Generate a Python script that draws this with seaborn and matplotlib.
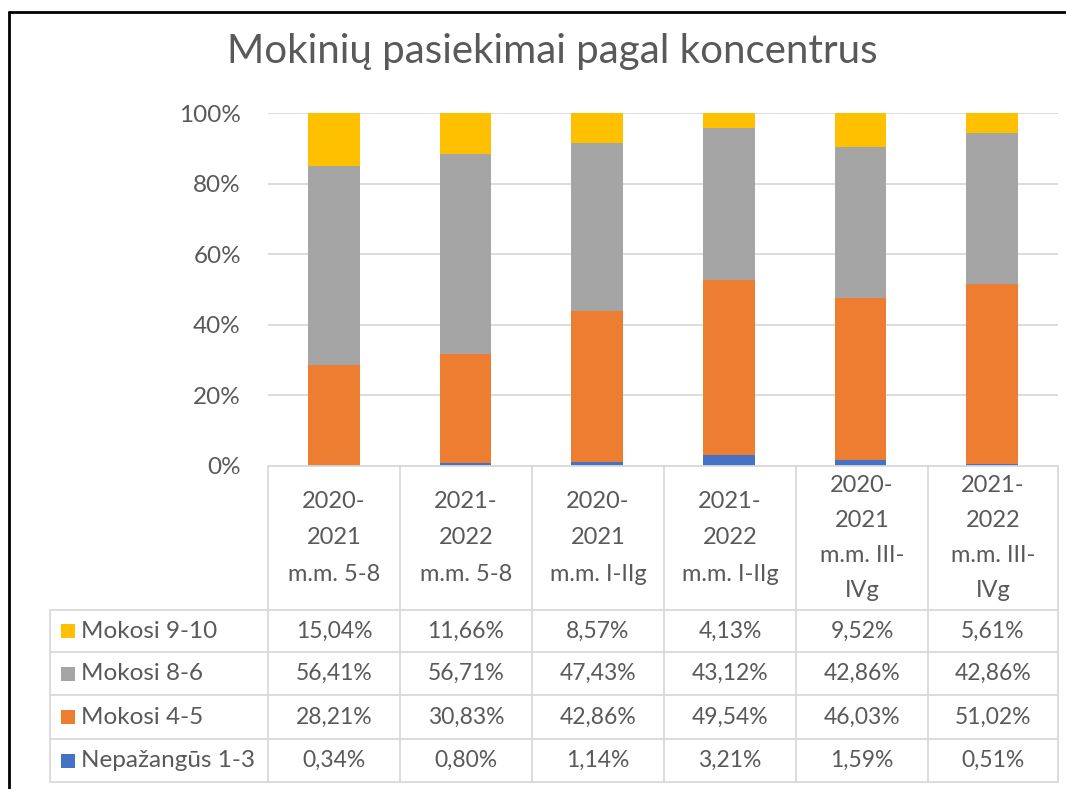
import matplotlib
matplotlib.use("Agg")
import matplotlib.pyplot as plt
import seaborn as sns
import pandas as pd
import numpy as np
from matplotlib.lines import Line2D
from matplotlib.patches import Rectangle

categories = ["2020-\n2021\nm.m. 5-8", "2021-\n2022\nm.m. 5-8", "2020-\n2021\nm.m. I-IIg",
              "2021-\n2022\nm.m. I-IIg", "2020-\n2021\nm.m. III-\nIVg", "2021-\n2022\nm.m. III-\nIVg"]
series_names = ["Mokosi 9-10", "Mokosi 8-6", "Mokosi 4-5", "Nepažangūs 1-3"]
mokosi_9_10 = [15.04, 11.66, 8.57, 4.13, 9.52, 5.61]
mokosi_8_6 = [56.41, 56.71, 47.43, 43.12, 42.86, 42.86]
mokosi_4_5 = [28.21, 30.83, 42.86, 49.54, 46.03, 51.02]
nepazangus_1_3 = [0.34, 0.80, 1.14, 3.21, 1.59, 0.51]
yticks = [0, 20, 40, 60, 80, 100]
title = "Mokinių pasiekimai pagal koncentrus"

colors = ["#FFC000", "#A5A5A5", "#ED7D31", "#4472C4"]
TXT = "#595959"
GRID = "#D9D9D9"

sns.set_theme(style="white")
plt.rcParams['font.family'] = ['Lato', 'DejaVu Sans']

W, H = 1066, 789
fig = plt.figure(figsize=(W / 100, H / 100), dpi=100)
fx = lambda x: x / W
fy = lambda y: 1 - y / H

ax_l, ax_r, ax_t, ax_b = 268, 1058, 113, 466
ax = fig.add_axes([fx(ax_l), fy(ax_b), fx(ax_r - ax_l), (ax_b - ax_t) / H])

series = [mokosi_9_10, mokosi_8_6, mokosi_4_5, nepazangus_1_3]
tot = np.sum(np.array(series), axis=0)
cum = np.zeros(len(categories))
cums = []
for s in series[::-1]:
    cum = cum + np.array(s) / tot
    cums.append(cum.copy())
cums = cums[::-1]

idx = list(range(len(categories)))
for name, c, col in zip(series_names, cums, colors):
    df = pd.DataFrame({"x": idx, "y": c})
    sns.barplot(data=df, x="x", y="y", color=col, width=0.39, ax=ax,
                saturation=1, linewidth=0)

ax.set_xlim(-0.5, len(categories) - 0.5)
ax.set_ylim(0, 1)
ax.set_yticks([v / 100 for v in yticks])
ax.set_yticklabels([f"{v}%" for v in yticks], color=TXT, fontsize=17.5)
ax.tick_params(axis="y", length=0, pad=19.5)
ax.set_xticks([])
ax.set_xlabel("")
ax.set_ylabel("")
for sp in ax.spines.values():
    sp.set_visible(False)
ax.yaxis.grid(True, color=GRID, linewidth=1.3)
ax.set_axisbelow(True)

# Title
fig.text(fx(552), fy(52), title, ha="center", va="center", fontsize=29, color=TXT)

# Data table
col_edges = [268, 400, 532, 664, 796, 928, 1058]
row_edges = [610, 652, 695, 739, 782]
leg_left = 50

def line(x0, y0, x1, y1, color=GRID, lw=1.3):
    fig.add_artist(Line2D([fx(x0), fx(x1)], [fy(y0), fy(y1)], color=color, linewidth=lw,
                          transform=fig.transFigure))

line(ax_l, 466, ax_r, 466)
for y in row_edges:
    line(leg_left, y, ax_r, y)
for x in col_edges:
    line(x, 466, x, row_edges[-1])
line(leg_left, row_edges[0], leg_left, row_edges[-1])

for i, cat in enumerate(categories):
    xc = (col_edges[i] + col_edges[i + 1]) / 2
    n_lines = cat.count("\n") + 1
    ls = 1.92 if n_lines == 3 else 1.82
    fig.text(fx(xc), fy(538), cat, ha="center", va="center", fontsize=17,
             color=TXT, linespacing=ls)

for r, (name, vals, col) in enumerate(zip(series_names, series, colors)):
    yc = (row_edges[r] + row_edges[r + 1]) / 2
    fig.add_artist(Rectangle((fx(61), fy(yc + 7)), 14 / W, 14 / H, color=col,
                             transform=fig.transFigure, linewidth=0))
    fig.text(fx(81), fy(yc), name, ha="left", va="center", fontsize=17.5, color=TXT)
    for i, v in enumerate(vals):
        xc = (col_edges[i] + col_edges[i + 1]) / 2
        fig.text(fx(xc), fy(yc), f"{v:.2f}%".replace(".", ","), ha="center", va="center",
                 fontsize=16.5, color=TXT)

line(9, 12, W, 12, color="black", lw=2)
line(9, 12, 9, H, color="black", lw=2)

fig.savefig("out.png", dpi=100, facecolor="white")
